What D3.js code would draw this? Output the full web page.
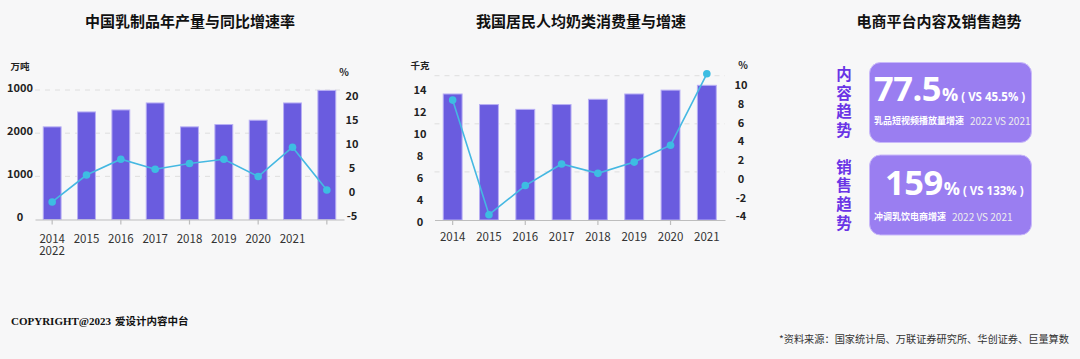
<!DOCTYPE html>
<html>
<head>
<meta charset="utf-8">
<script src="https://cdn.jsdelivr.net/npm/d3@7.9.0/dist/d3.min.js"></script>
<style>
  html, body { margin: 0; padding: 0; background: #f7f7f8; }
  svg { display: block; font-family: "Noto Sans CJK SC", "Noto Sans", sans-serif; }
</style>
</head>
<body>
<svg id="chart" width="1080" height="359"></svg>
<script>
// ---- data: 中国乳制品年产量与同比增速率 ----
const dairyYears = ['2014', '2015', '2016', '2017', '2018', '2019', '2020', '2021', '2022'];
const dairyOutput = [2146, 2492, 2538, 2700, 2146, 2200, 2300, 2700, 2991];
const dairyGrowth = [-1.8, 3.8, 7.1, 5.0, 6.2, 7.1, 3.5, 9.6, 0.7];
const dairyLeftTicks = [0, 1000, 2000, 3000];
const dairyLeftLabels = ['0', '1000', '2000', '1000'];
const dairyRightTicks = [-5, 0, 5, 10, 15, 20];
const dairyXLabels = ['2014', '2015', '2016', '2017', '2018', '2019', '2020', '2021'];

// ---- data: 我国居民人均奶类消费量与增速 ----
const milkYears = ['2014', '2015', '2016', '2017', '2018', '2019', '2020', '2021'];
const milkConsumption = [13.1, 12.0, 11.5, 12.0, 12.55, 13.1, 13.5, 14.0];
const milkGrowth = [8.5, -3.7, -0.6, 1.7, 0.7, 1.9, 3.7, 11.3];
const milkGridTicks = [5, 10, 15];
const milkLeftLabels = ['14', '12', '10', '8', '6', '4', '0'];
const milkRightTicks = [-4, -2, 0, 2, 4, 6, 8, 10];

// ---- data: 电商平台内容及销售趋势 ----
const trendSide = ['内容趋势', '销售趋势'];
const trendValue = ['77.5', '159'];
const trendCompare = ['( VS 45.5% )', '( VS 133% )'];
const trendCaption = ['乳品短视频播放量增速', '冲调乳饮电商增速'];

const barColor = '#6a5cdf';
const lineColor = '#45b8e2';
const svg = d3.select('#chart');

// titles
const titles = [['中国乳制品年产量与同比增速率', 190], ['我国居民人均奶类消费量与增速', 581], ['电商平台内容及销售趋势', 939]];
svg.selectAll('text.title')
  .data(titles)
  .enter()
  .append('text')
  .attr('x', d => d[1])
  .attr('y', 23)
  .attr('text-anchor', 'middle')
  .attr('dominant-baseline', 'middle')
  .attr('font-size', 15)
  .attr('font-weight', 700)
  .attr('fill', '#111')
  .text(d => d[0]);

// shared drawing of a bar + line combo panel
function drawCombo(opt) {
  const g = svg.append('g');
  const x = d3.scaleBand().domain(opt.years).range(opt.xRange).paddingInner(0.48).paddingOuter(0.24);

  // dashed gridlines
  g.selectAll('line.grid')
    .data(opt.gridTicks)
    .enter()
    .append('line')
    .attr('x1', opt.xRange[0]).attr('x2', opt.xRange[1])
    .attr('y1', d => opt.yLeft(d)).attr('y2', d => opt.yLeft(d))
    .attr('stroke', '#dedede')
    .attr('stroke-dasharray', '5,5');

  // bars
  g.selectAll('rect')
    .data(opt.bars)
    .enter()
    .append('rect')
    .attr('x', (d, i) => x(opt.years[i]))
    .attr('width', x.bandwidth())
    .attr('y', d => opt.yLeft(d))
    .attr('height', d => opt.yLeft(0) - opt.yLeft(d))
    .attr('fill', barColor)
    .attr('stroke', '#b8aff4')
    .attr('stroke-width', 1);

  // baseline axis, tick on every other year
  const axis = d3.axisBottom(x)
    .tickValues(opt.years.filter((d, i) => i % 2 === 0))
    .tickSize(5)
    .tickSizeOuter(0)
    .tickFormat('');
  const ax = g.append('g').attr('transform', `translate(0,${opt.yLeft(0)})`).call(axis);
  ax.select('.domain').attr('stroke', '#bdbdbd').attr('stroke-width', 1.2);
  ax.selectAll('.tick line').attr('stroke', '#bdbdbd').attr('stroke-width', 1.2);

  // year labels
  g.selectAll('text.year')
    .data(opt.xLabels)
    .enter()
    .append('text')
    .attr('x', (d, i) => x(opt.years[i]) + x.bandwidth() / 2)
    .attr('y', opt.labelY)
    .attr('text-anchor', 'middle')
    .attr('dominant-baseline', 'middle')
    .attr('font-size', 11.5)
    .attr('fill', '#333')
    .text(d => d);

  // growth line
  const line = d3.line()
    .x((d, i) => x(opt.years[i]) + x.bandwidth() / 2)
    .y(d => opt.yRight(d));
  g.append('path')
    .datum(opt.line)
    .attr('d', line)
    .attr('fill', 'none')
    .attr('stroke', lineColor)
    .attr('stroke-width', 1.6);
  g.selectAll('circle')
    .data(opt.line)
    .enter()
    .append('circle')
    .attr('cx', (d, i) => x(opt.years[i]) + x.bandwidth() / 2)
    .attr('cy', d => opt.yRight(d))
    .attr('r', 3.8)
    .attr('fill', '#3dbde2');

  // right axis labels
  g.selectAll('text.right')
    .data(opt.rightTicks)
    .enter()
    .append('text')
    .attr('x', opt.rightX)
    .attr('y', d => opt.yRight(d))
    .attr('text-anchor', 'middle')
    .attr('dominant-baseline', 'middle')
    .attr('font-size', 11)
    .attr('font-weight', 700)
    .attr('fill', '#222')
    .text(d => d);

  // units
  g.append('text').attr('x', opt.unitLeft[0]).attr('y', opt.unitLeft[1])
    .attr('text-anchor', 'middle').attr('dominant-baseline', 'middle')
    .attr('font-size', 9.5).attr('font-weight', 700).attr('fill', '#222').text(opt.unitLeft[2]);
  g.append('text').attr('x', opt.unitRight[0]).attr('y', opt.unitRight[1])
    .attr('text-anchor', 'middle').attr('dominant-baseline', 'middle')
    .attr('font-size', 10).attr('font-weight', 700).attr('fill', '#222').text('%');
  return g;
}

// left panel
const dairyLeft = d3.scaleLinear().domain([0, 3000]).range([219.5, 90]);
const dairyRight = d3.scaleLinear().domain([-5, 20]).range([217.3, 97.3]);
const g1 = drawCombo({
  years: dairyYears, bars: dairyOutput, line: dairyGrowth,
  xRange: [35, 344], yLeft: dairyLeft, yRight: dairyRight,
  gridTicks: dairyLeftTicks.slice(1), rightTicks: dairyRightTicks, rightX: 352,
  xLabels: dairyXLabels, labelY: 240,
  unitLeft: [20, 67, '万吨'], unitRight: [344, 73]
});
g1.selectAll('text.left')
  .data(dairyLeftTicks)
  .enter()
  .append('text')
  .attr('x', 20)
  .attr('y', d => dairyLeft(d) - 1)
  .attr('text-anchor', 'middle')
  .attr('dominant-baseline', 'middle')
  .attr('font-size', 11)
  .attr('font-weight', 700)
  .attr('fill', '#222')
  .text((d, i) => dairyLeftLabels[i]);
// '2022' wraps under the first label in the original
g1.append('text')
  .attr('x', 52).attr('y', 252)
  .attr('text-anchor', 'middle').attr('dominant-baseline', 'middle')
  .attr('font-size', 11.5).attr('fill', '#333')
  .text(dairyYears[8]);

// middle panel
const milkLeft = d3.scaleLinear().domain([0, 15]).range([220, 75.7]);
const milkRight = d3.scaleLinear().domain([-4, 10]).range([217.5, 86]);
const g2 = drawCombo({
  years: milkYears, bars: milkConsumption, line: milkGrowth,
  xRange: [434.5, 725], yLeft: milkLeft, yRight: milkRight,
  gridTicks: milkGridTicks, rightTicks: milkRightTicks, rightX: 741,
  xLabels: milkYears, labelY: 237.5,
  unitLeft: [420, 66, '千克'], unitRight: [743, 66]
});
const milkLabelPos = d3.scalePoint().domain(milkLeftLabels).range([90.7, 223.3]);
g2.selectAll('text.left')
  .data(milkLeftLabels)
  .enter()
  .append('text')
  .attr('x', 420)
  .attr('y', d => milkLabelPos(d))
  .attr('text-anchor', 'middle')
  .attr('dominant-baseline', 'middle')
  .attr('font-size', 11)
  .attr('font-weight', 700)
  .attr('fill', '#222')
  .text(d => d);

// right panel: two cards
const cardTop = [62.5, 155];
const cards = svg.selectAll('g.card')
  .data(trendValue)
  .enter()
  .append('g')
  .attr('transform', (d, i) => `translate(0,${cardTop[i]})`);

cards.append('rect')
  .attr('x', 869.5).attr('y', 0)
  .attr('width', 162).attr('height', 80)
  .attr('rx', 11)
  .attr('fill', '#9a7ef1')
  .attr('stroke', '#c9b9fa')
  .attr('stroke-width', 1);

// vertical purple labels
cards.each(function (d, i) {
  const chars = trendSide[i].split('');
  d3.select(this).selectAll('text.side')
    .data(chars)
    .enter()
    .append('text')
    .attr('x', 844)
    .attr('y', (c, k) => 13.5 + k * 18.6)
    .attr('text-anchor', 'middle')
    .attr('dominant-baseline', 'middle')
    .attr('font-size', 15.5)
    .attr('font-weight', 700)
    .attr('fill', '#6a34e6')
    .text(c => c);
});

// big figure + '%' + comparison in one line
const bigX = [874, 885];
const bigY = [38.5, 40];
cards.append('text')
  .attr('x', (d, i) => bigX[i])
  .attr('y', (d, i) => bigY[i])
  .attr('fill', '#fff')
  .attr('font-family', '"Open Sans", "Noto Sans", sans-serif')
  .attr('font-weight', 700)
  .each(function (d, i) {
    const t = d3.select(this);
    t.append('tspan').attr('font-size', 34.5).attr('letter-spacing', -0.5).text(d);
    t.append('tspan').attr('font-size', 18).attr('dx', 1).text('%');
    t.append('tspan').attr('font-size', 11.5).attr('dx', 3).text(trendCompare[i]);
  });

const capY = [59, 62.5];
cards.append('text')
  .attr('x', 874)
  .attr('y', (d, i) => capY[i])
  .attr('dominant-baseline', 'middle')
  .attr('fill', '#fff')
  .each(function (d, i) {
    const t = d3.select(this);
    t.append('tspan').attr('font-size', 9).attr('font-weight', 700).text(trendCaption[i]);
    t.append('tspan').attr('font-size', 10).attr('dx', 6).attr('fill', '#eee').text('2022 VS 2021');
  });

// footer
const foot = svg.append('text').attr('x', 11).attr('y', 322).attr('dominant-baseline', 'middle').attr('fill', '#111');
foot.append('tspan').attr('font-family', '"Liberation Serif", serif').attr('font-size', 11).attr('font-weight', 700).text('COPYRIGHT@2023');
foot.append('tspan').attr('dx', 4).attr('font-size', 10.5).attr('font-weight', 700).text('爱设计内容中台');

svg.append('text')
  .attr('x', 1069).attr('y', 340)
  .attr('text-anchor', 'end')
  .attr('dominant-baseline', 'middle')
  .attr('font-size', 10.2)
  .attr('fill', '#333')
  .text('*资料来源：国家统计局、万联证券研究所、华创证券、巨量算数');
</script>
</body>
</html>
